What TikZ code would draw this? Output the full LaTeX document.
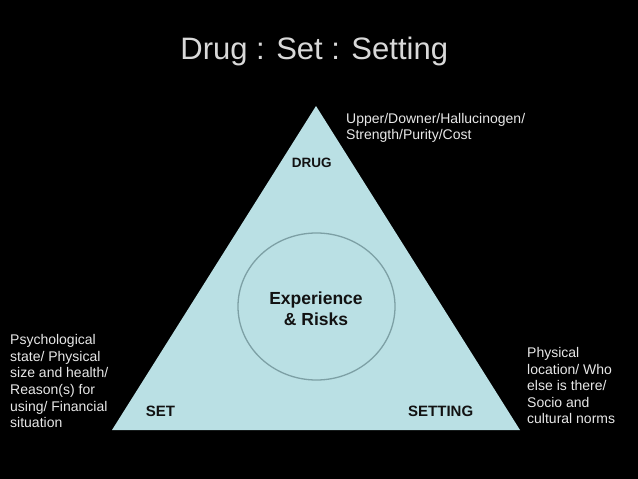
\documentclass[tikz,border=0pt]{standalone}
\usepackage{fontspec}
\setmainfont{Liberation Sans}
\usetikzlibrary{shapes.geometric}
\definecolor{tri}{RGB}{186,224,228}
\definecolor{ring}{RGB}{125,160,165}
\definecolor{titlec}{RGB}{217,217,217}
\definecolor{sidec}{RGB}{232,232,232}
\definecolor{inkc}{RGB}{18,18,18}
\begin{document}
\begin{tikzpicture}[x=1pt,y=-1pt,
  sidetext/.style={text=sidec, inner sep=0pt, align=left, anchor=north west},
  corner/.style={text=inkc, inner sep=0pt, anchor=base, font=\bfseries\fontsize{15}{18}\selectfont},
  core/.style={ellipse, draw=ring, line width=1.3pt, minimum width=157pt, minimum height=147pt, inner sep=0pt}]
\fill[black] (0,0) rectangle (638,479);
\useasboundingbox (0,0) rectangle (638,479);
\node[text=titlec, inner sep=0pt, anchor=base, font=\fontsize{31}{37}\selectfont] (title) at (314.2,59.3) {Drug : Set : Setting};
\coordinate (apex) at (316,106);
\coordinate (bl) at (112,430);
\coordinate (br) at (520,430);
\fill[tri] (apex) -- (br) -- (bl) -- cycle;
\node[core] (circ) at (316.5,306.5) {};
\node[text=inkc, inner sep=0pt, align=center, font=\bfseries\fontsize{17.5}{21}\selectfont] (exp) at (316,308.3) {Experience\\\& Risks};
\node[corner, font=\bfseries\fontsize{13.5}{16}\selectfont] (drug) at (311.7,167.7) {DRUG};
\node[corner] (set) at (160.5,416.7) {SET};
\node[corner] (setting) at (440.7,416.3) {SETTING};
\node[sidetext, font=\fontsize{14}{16}\selectfont] (drugnote) at (346,112.7) {Upper/Downer/Hallucinogen/\\Strength/Purity/Cost};
\node[sidetext, font=\fontsize{14}{16.7}\selectfont] (setnote) at (10,334) {Psychological\\state/ Physical\\size and health/\\Reason(s) for\\using/ Financial\\situation};
\node[sidetext, font=\fontsize{14}{16.5}\selectfont] (settingnote) at (527,347.3) {Physical\\location/ Who\\else is there/\\Socio and\\cultural norms};
\end{tikzpicture}
\end{document}
